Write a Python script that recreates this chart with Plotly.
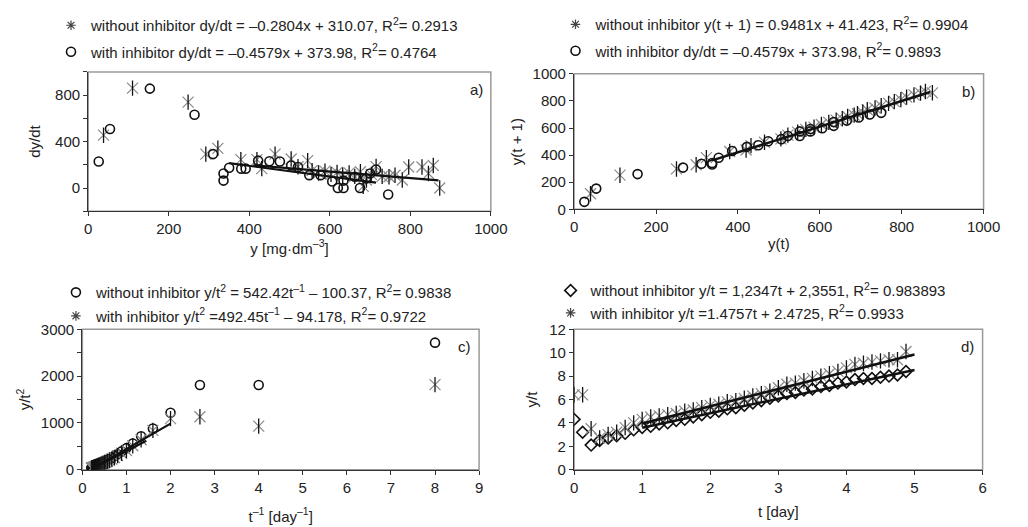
import plotly.graph_objects as go

# ---------------- data ----------------
# panel a: dy/dt vs y
a_wo_x = [38, 110, 248, 292, 322, 379, 419, 431, 464, 504, 521, 545, 556, 572, 588, 603, 618, 632, 648, 662, 676, 683, 691, 703, 715, 730, 747, 762, 780, 796, 829, 845, 857, 873]
a_wo_y = [455, 860, 740, 292, 342, 245, 244, 167, 292, 250, 183, 236, 150, 130, 145, 118, 135, 110, 130, 100, 140, 14, 69, 118, 185, 100, 97, 110, 69, 181, 181, 125, 194, 0]
a_wi_x = [26, 54, 153, 264, 310, 336, 336, 350, 380, 391, 422, 450, 476, 504, 521, 549, 577, 606, 620, 634, 634, 662, 675, 690, 700, 715, 745]
a_wi_y = [228, 508, 856, 631, 292, 125, 64, 175, 167, 167, 236, 231, 228, 194, 181, 111, 111, 56, 0, 0, 64, 97, 0, 83, 125, 160, -56]
a_fit_wo = {"slope": -0.2804, "icpt": 310.07, "x": [410, 870]}
a_fit_wi = {"slope": -0.4579, "icpt": 373.98, "x": [350, 715]}

# panel b: y(t+1) vs y(t)
b_wo_x = [40, 112, 250, 298, 323, 380, 420, 432, 465, 505, 522, 546, 566, 586, 604, 622, 640, 655, 668, 684, 692, 705, 716, 735, 750, 768, 782, 798, 812, 830, 846, 858, 875]
b_wo_y = [115, 252, 298, 329, 381, 427, 438, 470, 495, 520, 548, 570, 590, 606, 626, 642, 658, 668, 685, 695, 705, 716, 735, 748, 764, 782, 795, 810, 828, 845, 858, 870, 860]
b_wi_x = [25, 54, 155, 266, 311, 337, 337, 353, 386, 422, 450, 474, 506, 522, 551, 551, 577, 577, 606, 634, 634, 666, 695, 722, 750]
b_wi_y = [55, 153, 260, 308, 336, 342, 331, 381, 431, 461, 473, 502, 518, 541, 541, 575, 575, 593, 598, 616, 644, 655, 678, 700, 712]
b_fit_wo = {"slope": 0.9481, "icpt": 41.423, "x": [335, 870]}

# panel c: y/t^2 vs t^-1
c_u = [8, 4, 2.667, 2, 1.6, 1.333, 1.143, 1.0, 0.889, 0.8, 0.727, 0.667, 0.615, 0.571, 0.533, 0.5, 0.471, 0.444, 0.421, 0.4,
       0.381, 0.364, 0.348, 0.333, 0.32, 0.308, 0.296, 0.286, 0.276, 0.267, 0.258, 0.25, 0.242, 0.235, 0.229, 0.222, 0.216, 0.211, 0.205]
c_wo = [2715, 1810, 1810, 1215, 880, 714, 560, 460, 390, 330, 290, 250, 220, 195, 175, 160, 145, 130, 120, 110,
        100, 95, 88, 82, 76, 72, 68, 64, 60, 57, 54, 51, 48, 46, 44, 42, 40, 38, 37]
c_wi = [1817, 930, 1130, 1090, 840, 640, 510, 410, 350, 300, 260, 225, 200, 180, 160, 148, 135, 122, 112, 102,
        94, 87, 80, 75, 70, 66, 62, 58, 55, 52, 49, 46, 44, 42, 40, 38, 36, 34, 33]
c_fit_wo = {"slope": 542.42, "icpt": -100.37, "x": [0.205, 2.0]}
c_fit_wi = {"slope": 492.45, "icpt": -94.178, "x": [0.205, 1.45]}

# panel d: y/t vs t
d_t = [0, 0.125, 0.25, 0.375, 0.5, 0.625, 0.75, 0.875, 1.0, 1.125, 1.25, 1.375, 1.5, 1.625, 1.75, 1.875, 2.0, 2.125, 2.25, 2.375,
       2.5, 2.625, 2.75, 2.875, 3.0, 3.125, 3.25, 3.375, 3.5, 3.625, 3.75, 3.875, 4.0, 4.125, 4.25, 4.375, 4.5, 4.625, 4.75, 4.875]
d_wi = [6.4, 6.4, 3.5, 2.7, 3.0, 3.2, 3.6, 4.0, 4.3, 4.5, 4.6, 4.7, 4.8, 5.0, 5.1, 5.3, 5.5, 5.6, 5.8, 5.9,
        6.1, 6.3, 6.5, 6.7, 7.0, 7.3, 7.4, 7.6, 7.8, 8.0, 8.2, 8.4, 8.7, 9.0, 9.1, 9.2, 9.3, 9.4, 9.4, 10.1]
d_wo = [4.3, 3.2, 2.1, 2.5, 2.7, 2.9, 3.1, 3.4, 3.6, 3.7, 3.9, 4.0, 4.2, 4.3, 4.5, 4.7, 4.9, 5.0, 5.2, 5.3,
        5.5, 5.7, 5.9, 6.1, 6.3, 6.5, 6.6, 6.8, 6.9, 7.1, 7.2, 7.4, 7.5, 7.7, 7.8, 7.8, 7.9, 8.0, 8.1, 8.4]
d_fit_wo = {"slope": 1.2347, "icpt": 2.3551, "x": [1, 5]}
d_fit_wi = {"slope": 1.4757, "icpt": 2.4725, "x": [1, 5]}

leg_a = ["without inhibitor dy/dt = –0.2804x + 310.07, R<sup>2</sup>= 0.2913",
         "with inhibitor dy/dt = –0.4579x + 373.98, R<sup>2</sup>= 0.4764"]
leg_b = ["without inhibitor y(t + 1) = 0.9481x + 41.423, R<sup>2</sup>= 0.9904",
         "with inhibitor dy/dt = –0.4579x + 373.98, R<sup>2</sup>= 0.9893"]
leg_c = ["without inhibitor y/t<sup>2</sup> = 542.42t<sup>–1</sup> – 100.37, R<sup>2</sup>= 0.9838",
         "with inhibitor y/t<sup>2</sup> =492.45t<sup>–1</sup> – 94.178, R<sup>2</sup>= 0.9722"]
leg_d = ["without inhibitor y/t = 1,2347t + 2,3551, R<sup>2</sup>= 0.983893",
         "with inhibitor y/t =1.4757t + 2.4725, R<sup>2</sup>= 0.9933"]

# ---------------- style ----------------
FONT = "Liberation Sans, Arial, sans-serif"
TXT = "#222222"
GRAY_X = "#8a8a8a"
BLK = "#111111"

fig = go.Figure()


def add_star(x, y, xa, ya, legend, name, group):
    fig.add_trace(go.Scatter(x=x, y=y, xaxis=xa, yaxis=ya, mode="markers", showlegend=False,
                             marker=dict(symbol="x-thin-open", size=11, color=GRAY_X,
                                         line=dict(color=GRAY_X, width=1.2))))
    fig.add_trace(go.Scatter(x=x, y=y, xaxis=xa, yaxis=ya, mode="markers", showlegend=False,
                             marker=dict(symbol="line-ns-open", size=11, color=BLK,
                                         line=dict(color=BLK, width=1.3))))
    fig.add_trace(go.Scatter(x=[None], y=[None], xaxis=xa, yaxis=ya, mode="markers", name=name, legend=legend,
                             legendgroup=group,
                             marker=dict(symbol="asterisk-open", size=8, color="#444",
                                         line=dict(color="#444", width=1.2))))


def add_open(x, y, xa, ya, legend, name, group, symbol, size=9):
    fig.add_trace(go.Scatter(x=x, y=y, xaxis=xa, yaxis=ya, mode="markers", name=name, legend=legend,
                             legendgroup=group,
                             marker=dict(symbol=symbol, size=size, color=BLK,
                                         line=dict(color=BLK, width=1.6))))


def add_fit(fit, xa, ya, width=2.2):
    xs = fit["x"]
    ys = [fit["slope"] * v + fit["icpt"] for v in xs]
    fig.add_trace(go.Scatter(x=xs, y=ys, xaxis=xa, yaxis=ya, mode="lines", showlegend=False,
                             line=dict(color=BLK, width=width)))


# panel a
add_star(a_wo_x, a_wo_y, "x", "y", "legend", leg_a[0], "a1")
add_open(a_wi_x, a_wi_y, "x", "y", "legend", leg_a[1], "a2", "circle-open")
add_fit(a_fit_wo, "x", "y")
add_fit(a_fit_wi, "x", "y")

# panel b
add_star(b_wo_x, b_wo_y, "x2", "y2", "legend2", leg_b[0], "b1")
add_open(b_wi_x, b_wi_y, "x2", "y2", "legend2", leg_b[1], "b2", "circle-open")
add_fit(b_fit_wo, "x2", "y2", width=2.5)

# panel c
add_open(c_u, c_wo, "x3", "y3", "legend3", leg_c[0], "c1", "circle-open")
add_star(c_u, c_wi, "x3", "y3", "legend3", leg_c[1], "c2")
add_fit(c_fit_wo, "x3", "y3")
add_fit(c_fit_wi, "x3", "y3")

# panel d
add_open(d_t, d_wo, "x4", "y4", "legend4", leg_d[0], "d1", "diamond-open")
add_star(d_t, d_wi, "x4", "y4", "legend4", leg_d[1], "d2")
add_fit(d_fit_wo, "x4", "y4", width=2.5)
add_fit(d_fit_wi, "x4", "y4", width=2.5)

W, H = 1028, 527


def px(v):
    return v / W


def py(v):
    return 1 - v / H


tickfont = dict(family=FONT, size=15, color=TXT)
titlefont = dict(family=FONT, size=15, color=TXT)
common = dict(showgrid=False, zeroline=False, showline=True, linecolor="#333", linewidth=1.3,
              ticks="outside", ticklen=4, tickcolor="#333", tickfont=tickfont)
minor_tick = dict(ticks="outside", ticklen=4, tickcolor="#333", showgrid=False)

doms = {
    "a": ([px(86), px(497)], [py(209), py(65)]),
    "b": ([px(582), px(1000)], [py(207), py(67)]),
    "c": ([px(80), px(485)], [py(476), py(331)]),
    "d": ([px(582), px(999)], [py(476), py(331)]),
}

fig.update_layout(
    width=W, height=H, margin=dict(l=0, r=0, t=0, b=0),
    paper_bgcolor="white", plot_bgcolor="white",
    font=dict(family=FONT, size=15, color=TXT),
    xaxis=dict(domain=doms["a"][0], anchor="y", range=[0, 1000], tick0=0, dtick=200,
               title=dict(text="y [mg·dm<sup>–3</sup>]", font=titlefont, standoff=6), **common),
    yaxis=dict(domain=doms["a"][1], anchor="x", range=[-200, 1000], tick0=0, dtick=400,
               minor=dict(dtick=200, tick0=0, **minor_tick),
               title=dict(text="dy/dt", font=titlefont, standoff=10), **common),
    xaxis2=dict(domain=doms["b"][0], anchor="y2", range=[0, 1000], tick0=0, dtick=200,
                title=dict(text="y(t)", font=titlefont, standoff=4), **common),
    yaxis2=dict(domain=doms["b"][1], anchor="x2", range=[0, 1000], tick0=0, dtick=200,
                title=dict(text="y(t + 1)", font=titlefont, standoff=6), **common),
    xaxis3=dict(domain=doms["c"][0], anchor="y3", range=[0, 9], tick0=0, dtick=1,
                title=dict(text="t<sup>–1</sup> [day<sup>–1</sup>]", font=titlefont, standoff=16), **common),
    yaxis3=dict(domain=doms["c"][1], anchor="x3", range=[0, 3000], tick0=0, dtick=1000,
                minor=dict(dtick=500, tick0=0, **minor_tick),
                title=dict(text="y/t<sup>2</sup>", font=titlefont, standoff=6), **common),
    xaxis4=dict(domain=doms["d"][0], anchor="y4", range=[0, 6], tick0=0, dtick=1,
                title=dict(text="t [day]", font=titlefont, standoff=11), **common),
    yaxis4=dict(domain=doms["d"][1], anchor="x4", range=[0, 12], tick0=0, dtick=2,
                title=dict(text="y/t", font=titlefont, standoff=8), **common),
)

legfont = dict(family=FONT, size=15, color=TXT)
legcommon = dict(bgcolor="rgba(0,0,0,0)", borderwidth=0, font=legfont, xanchor="left", yanchor="top",
                 itemwidth=30, traceorder="grouped")
fig.update_layout(
    legend=dict(x=px(48), y=py(0), tracegroupgap=4, **legcommon),
    legend2=dict(x=px(563), y=py(-1), tracegroupgap=4, **legcommon),
    legend3=dict(x=px(53), y=py(276), tracegroupgap=1, **legcommon),
    legend4=dict(x=px(558), y=py(274), tracegroupgap=0, **legcommon),
)

# frames (gray box) and panel letters
for xr, yr in [("x", "y"), ("x2", "y2"), ("x3", "y3"), ("x4", "y4")]:
    fig.add_shape(type="rect", xref=f"{xr} domain", yref=f"{yr} domain", x0=0, x1=1, y0=0, y1=1,
                  line=dict(color="#9a9a9a", width=1.5), layer="below")

for lab, xr, yr in [("a)", "x", "y"), ("b)", "x2", "y2"), ("c)", "x3", "y3"), ("d)", "x4", "y4")]:
    fig.add_annotation(text=lab, xref=f"{xr} domain", yref=f"{yr} domain", x=0.985, y=0.95,
                       xanchor="right", yanchor="top", showarrow=False, font=dict(family=FONT, size=15, color=TXT))

fig.write_html("out.html")
